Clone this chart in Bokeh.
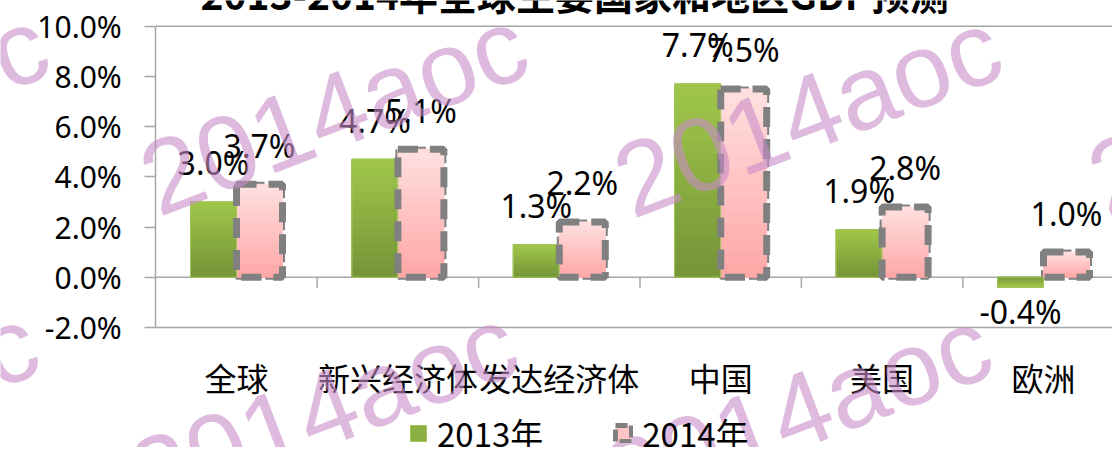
import math
import numpy as np
from bokeh.plotting import figure
from bokeh.models import (Range1d, FixedTicker, PrintfTickFormatter, Label,
                          Legend, LegendItem, ColumnDataSource)
from bokeh.core.properties import value
from bokeh.embed import file_html
from bokeh.resources import INLINE

# ---------------- data ----------------
categories = ["全球", "新兴经济体", "发达经济体", "中国", "美国", "欧洲"]
gdp_2013 = [3.0, 4.7, 1.3, 7.7, 1.9, -0.4]
gdp_2014 = [3.7, 5.1, 2.2, 7.5, 2.8, 1.0]
series_names = ["2013年", "2014年"]
y_ticks = [-2, 0, 2, 4, 6, 8, 10]
title_text = "2013-2014年全球主要国家和地区GDP预测"
watermark_text = "2014aoc"

# ---------------- layout constants (pixels) ----------------
W, H = 1112, 447
X0_PX = 155.3          # x pixel of the value axis
CAT_PX = 161.4         # width of one category
Y0_PX = 276.7          # y pixel of the zero line
UNIT_PX = 25.1         # pixels per percentage point

x_range = Range1d(-X0_PX / CAT_PX, (W - X0_PX) / CAT_PX)
y_range = Range1d(-(H - Y0_PX) / UNIT_PX, Y0_PX / UNIT_PX)

p = figure(width=W, height=H, x_range=x_range, y_range=y_range,
           output_backend="svg", toolbar_location=None, min_border=0)
p.xgrid.visible = False
p.ygrid.visible = False
p.outline_line_color = None
p.background_fill_color = "white"
p.border_fill_color = "white"

GRAY = "#A6A6A6"
n = len(categories)
centers = np.arange(n) + 0.5
bw = 0.285
off = 0.1425
ymin, ymax = min(y_ticks), max(y_ticks)

# frame lines: top (10%) line and zero line
p.segment(x0=[0, 0], y0=[ymax, 0], x1=[n, n], y1=[ymax, 0], line_color=GRAY, line_width=1.5)

x13 = centers - off
x14 = centers + off

# base bars (also used as the legend glyphs)
r13 = p.vbar(x=x13, top=gdp_2013, bottom=0, width=bw,
             fill_color="#8AAF42", line_color="#A2C65A", line_width=1)
r14 = p.vbar(x=x14, top=gdp_2014, bottom=0, width=bw,
             fill_color="#FFC4C4", line_color="#808080", line_width=5, line_dash="12 4")


def mix(c1, c2, t):
    return "#%02x%02x%02x" % tuple(int(round(a + (b - a) * t)) for a, b in zip(c1, c2))


def gradient_bars(xs, vals, top_rgb, bottom_rgb, steps=14):
    """Vertical colour gradient inside each bar (light at the top, dark at the base)."""
    vals = np.asarray(vals, dtype=float)
    for k in range(steps):
        t = (k + 0.5) / steps
        c = mix(bottom_rgb, top_rgb, t)
        p.vbar(x=xs, bottom=vals * k / steps, top=vals * (k + 1) / steps, width=bw,
               fill_color=c, line_color=c, line_width=1)


gradient_bars(x13, gdp_2013, (160, 199, 74), (116, 148, 56))
gradient_bars(x14, gdp_2014, (255, 224, 224), (255, 166, 166))

# outlines on top
p.vbar(x=x13, top=gdp_2013, bottom=0, width=bw, fill_alpha=0,
       line_color="#A2C65A", line_width=1)
p.vbar(x=x14, top=gdp_2014, bottom=0, width=bw, fill_alpha=0,
       line_color="#808080", line_width=7, line_dash="20 12")

# category separators on the zero line
bounds = np.arange(1, n)
p.segment(x0=bounds, y0=0, x1=bounds, y1=-0.42, line_color=GRAY, line_width=1.5)

# data labels
def lab_src(xs, vals):
    return ColumnDataSource(dict(
        x=xs, y=vals, text=[f"{v:.1f}%" for v in vals],
        yoff=[-39 if v >= 0 else 24 for v in vals]))

for xs, vals in ((x13, gdp_2013), (x14, gdp_2014)):
    p.text(x="x", y="y", text="text", y_offset="yoff", source=lab_src(xs, vals),
           text_font=value("Noto Sans"), text_font_size="32px", text_color="black",
           text_align="center", text_baseline="middle")

# axes (fixed inside the full-canvas frame)
ya = p.yaxis[0]
ya.fixed_location = 0
ya.bounds = (ymin, ymax)
ya.ticker = FixedTicker(ticks=y_ticks)
ya.formatter = PrintfTickFormatter(format="%.1f%%")
ya.major_label_text_font = "Noto Sans"
ya.major_label_text_font_size = "30px"
ya.major_label_text_color = "black"
ya.major_tick_out = 11
ya.major_tick_in = 0
ya.minor_tick_out = 0
ya.minor_tick_in = 0
ya.axis_line_color = GRAY
ya.axis_line_width = 1.5
ya.major_tick_line_color = GRAY
ya.major_tick_line_width = 1.5
ya.major_label_standoff = 23

xa = p.xaxis[0]
xa.fixed_location = ymin
xa.bounds = (0, n)
xa.ticker = FixedTicker(ticks=[float(c) for c in centers])
xa.major_label_overrides = {float(c): name for c, name in zip(centers, categories)}
xa.major_label_text_font = "Noto Sans CJK SC"
xa.major_label_text_font_size = "32px"
xa.major_label_text_color = "black"
xa.major_tick_out = 0
xa.major_tick_in = 0
xa.minor_tick_out = 0
xa.minor_tick_in = 0
xa.axis_line_color = GRAY
xa.axis_line_width = 1.5
xa.major_label_standoff = 27

# legend
legend = Legend(items=[LegendItem(label=series_names[0], renderers=[r13]),
                       LegendItem(label=series_names[1], renderers=[r14])],
                orientation="horizontal", location=(408, -10),
                border_line_color=None, background_fill_alpha=0,
                label_text_font="Noto Sans CJK SC", label_text_font_size="33px",
                label_text_color="black",
                glyph_width=20, glyph_height=20, spacing=70, label_standoff=9,
                padding=0, margin=0)
p.add_layout(legend, "center")

# title (cut off at the top edge, as in the reference)
p.add_layout(Label(x=200, y=H + 8, x_units="screen", y_units="screen", text=title_text,
                   text_align="left", text_baseline="alphabetic", text_font="Noto Sans CJK SC",
                   text_font_size="39px", text_font_style="bold", text_color="black"))

# watermark (pixel anchors of the baseline start)
for wx, wy in [(-334, 183), (145, 183), (619, 185), (1093, 183),
               (-344, 481), (135, 481), (609, 483)]:
    p.add_layout(Label(x=wx, y=H - wy, x_units="screen", y_units="screen", text=watermark_text,
                       angle=math.radians(21), text_font="Liberation Sans",
                       text_font_size="105px", text_color="#C88CC8", text_alpha=0.6,
                       text_baseline="alphabetic", text_align="left"))

open("out.html", "w").write(file_html(p, INLINE))
